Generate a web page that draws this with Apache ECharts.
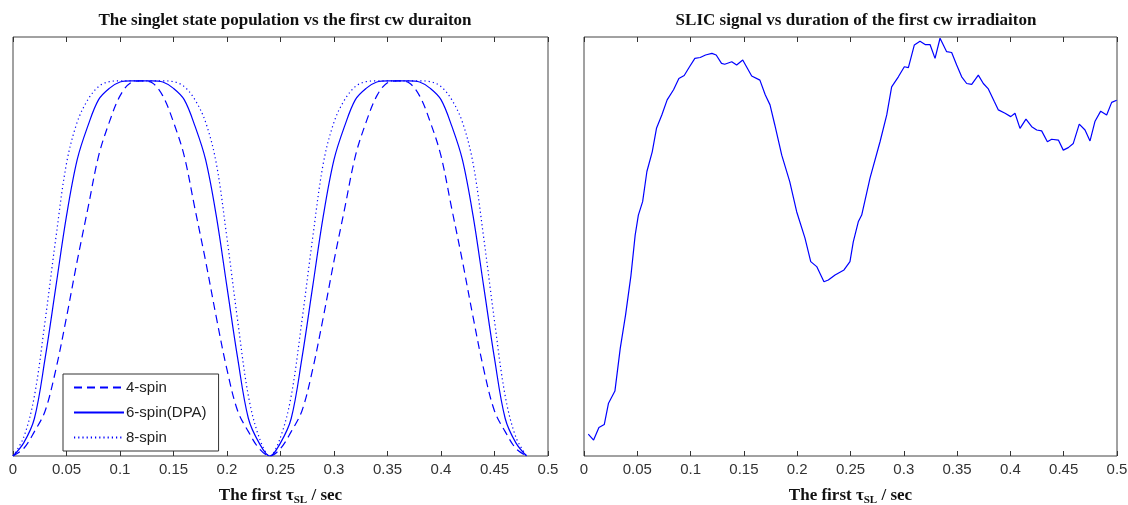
<!DOCTYPE html>
<html>
<head>
<meta charset="utf-8">
<script src="https://cdn.jsdelivr.net/npm/echarts@6/dist/echarts.min.js"></script>
<style>
  html, body { margin: 0; padding: 0; background: #fff; }
  #chart { width: 1128px; height: 505px; }
</style>
</head>
<body>
<div id="chart"></div>
<script>
// left panel: population vs first cw duration (sampled every 0.01 s)
const popTime = [0, 0.01, 0.02, 0.03, 0.04, 0.05, 0.06, 0.07, 0.08, 0.09, 0.1, 0.11, 0.12,
  0.13, 0.14, 0.15, 0.16, 0.17, 0.18, 0.19, 0.2, 0.21, 0.22, 0.23, 0.24,
  0.25, 0.26, 0.27, 0.28, 0.29, 0.3, 0.31, 0.32, 0.33, 0.34, 0.35, 0.36,
  0.37, 0.38, 0.39, 0.4, 0.41, 0.42, 0.43, 0.44, 0.45, 0.46, 0.47, 0.48]
const spin4 = [0, 0.02, 0.065, 0.12, 0.23, 0.37, 0.52, 0.66, 0.8, 0.89, 0.96, 0.995, 1,
  0.995, 0.96, 0.89, 0.8, 0.66, 0.52, 0.37, 0.23, 0.12, 0.065, 0.02, 0,
  0.02, 0.065, 0.12, 0.23, 0.37, 0.52, 0.66, 0.8, 0.89, 0.96, 0.995, 1,
  0.995, 0.96, 0.89, 0.8, 0.66, 0.52, 0.37, 0.23, 0.12, 0.065, 0.02, 0]
const spin6 = [0, 0.035, 0.1, 0.26, 0.45, 0.64, 0.79, 0.88, 0.95, 0.98, 0.997, 1, 1,
  1, 0.997, 0.98, 0.95, 0.88, 0.79, 0.64, 0.45, 0.26, 0.1, 0.035, 0,
  0.035, 0.1, 0.26, 0.45, 0.64, 0.79, 0.88, 0.95, 0.98, 0.997, 1, 1,
  1, 0.997, 0.98, 0.95, 0.88, 0.79, 0.64, 0.45, 0.26, 0.1, 0.035, 0]
const spin8 = [0, 0.05, 0.16, 0.36, 0.58, 0.78, 0.89, 0.95, 0.985, 0.998, 1, 1, 1,
  1, 1, 0.998, 0.985, 0.95, 0.89, 0.78, 0.58, 0.36, 0.16, 0.05, 0,
  0.05, 0.16, 0.36, 0.58, 0.78, 0.89, 0.95, 0.985, 0.998, 1, 1, 1,
  1, 1, 0.998, 0.985, 0.95, 0.89, 0.78, 0.58, 0.36, 0.16, 0.05, 0]

// right panel: SLIC signal (relative units)
const slicTime = [0.004, 0.009, 0.014, 0.019, 0.023, 0.029, 0.034, 0.039, 0.044, 0.048,
  0.051, 0.055, 0.059, 0.064, 0.068, 0.073, 0.078, 0.084, 0.089, 0.094,
  0.099, 0.104, 0.109, 0.114, 0.12, 0.124, 0.129, 0.132, 0.1386, 0.1432,
  0.1489, 0.1573, 0.165, 0.17, 0.1745, 0.179, 0.1855, 0.193, 0.1995, 0.2073,
  0.2127, 0.2183, 0.2251, 0.2292, 0.2355, 0.2439, 0.2495, 0.2526, 0.2573, 0.2605,
  0.2683, 0.2777, 0.284, 0.2886, 0.2949, 0.3005, 0.3043, 0.3099, 0.3152, 0.32,
  0.3246, 0.3293, 0.334, 0.3402, 0.3449, 0.3496, 0.3543, 0.359, 0.3637, 0.3699,
  0.3746, 0.3793, 0.3849, 0.3887, 0.395, 0.4003, 0.4043, 0.409, 0.4146, 0.42,
  0.4247, 0.4293, 0.4347, 0.4387, 0.445, 0.4496, 0.4543, 0.459, 0.4646, 0.47,
  0.4747, 0.4794, 0.4847, 0.4903, 0.495, 0.4997]
const slicSignal = [0.052, 0.038, 0.068, 0.075, 0.126, 0.155, 0.257, 0.337, 0.43, 0.527,
  0.575, 0.607, 0.679, 0.726, 0.782, 0.814, 0.85, 0.874, 0.901, 0.908,
  0.929, 0.949, 0.951, 0.957, 0.961, 0.957, 0.937, 0.935, 0.941, 0.933,
  0.945, 0.907, 0.897, 0.862, 0.838, 0.79, 0.718, 0.655, 0.583, 0.52,
  0.464, 0.452, 0.416, 0.42, 0.432, 0.444, 0.464, 0.511, 0.559, 0.575,
  0.663, 0.75, 0.814, 0.881, 0.905, 0.929, 0.927, 0.981, 0.99, 0.982,
  0.982, 0.949, 0.997, 0.965, 0.963, 0.933, 0.905, 0.889, 0.887, 0.909,
  0.889, 0.876, 0.846, 0.826, 0.818, 0.81, 0.818, 0.782, 0.804, 0.786,
  0.778, 0.776, 0.75, 0.756, 0.754, 0.73, 0.736, 0.746, 0.792, 0.778,
  0.752, 0.799, 0.823, 0.814, 0.844, 0.849]

const xTicks = { min: 0, max: 0.5, interval: 0.05 }

const chart = echarts.init(document.getElementById('chart'), null, { renderer: 'canvas' })

const serif = '"Liberation Serif", "Times New Roman", serif'
const sans = '"Liberation Sans", Arial, sans-serif'
const blue = '#0000ff'

const axisName = 'The first {tau|τ}{sub|SL}{t| / sec}'
const nameRich = {
  tau: { fontFamily: serif, fontWeight: 'bold', fontSize: 17, color: '#111' },
  sub: { fontFamily: serif, fontWeight: 'bold', fontSize: 11, color: '#111', padding: [10, 0, 0, 0] },
  t: { fontFamily: serif, fontWeight: 'bold', fontSize: 17, color: '#111' }
}

function bottomAxis(grid) {
  return {
    type: 'value',
    gridIndex: grid,
    ...xTicks,
    position: 'bottom',
    name: axisName,
    nameLocation: 'middle',
    nameGap: 29,
    nameTextStyle: { fontFamily: serif, fontWeight: 'bold', fontSize: 17, color: '#111', rich: nameRich },
    axisLine: { show: false },
    axisTick: { show: true, inside: true, length: 5, lineStyle: { color: '#333' } },
    axisLabel: { margin: 6, fontFamily: sans, fontSize: 15, color: '#333' },
    splitLine: { show: false }
  }
}
function topAxis(grid) {
  return {
    type: 'value',
    gridIndex: grid,
    ...xTicks,
    position: 'top',
    axisLine: { show: false },
    axisTick: { show: true, inside: true, length: 5, lineStyle: { color: '#333' } },
    axisLabel: { show: false },
    splitLine: { show: false }
  }
}
function hiddenY(grid, max) {
  return {
    type: 'value',
    gridIndex: grid,
    min: 0,
    max: max,
    axisLine: { show: false },
    axisTick: { show: false },
    axisLabel: { show: false },
    splitLine: { show: false }
  }
}

function pairs(xs, ys) {
  return xs.map((x, i) => [x, ys[i]])
}

chart.setOption({
  animation: false,
  backgroundColor: '#fff',
  title: [
    {
      text: 'The singlet state population vs the first cw duraiton',
      left: 280,
      top: 7,
      textAlign: 'center',
      textStyle: { fontFamily: serif, fontWeight: 'bold', fontSize: 17, color: '#111' }
    },
    {
      text: 'SLIC signal vs duration of the first cw irradiaiton',
      left: 851,
      top: 7,
      textAlign: 'center',
      textStyle: { fontFamily: serif, fontWeight: 'bold', fontSize: 17, color: '#111' }
    }
  ],
  legend: {
    data: ['4-spin', '6-spin(DPA)', '8-spin'],
    orient: 'vertical',
    left: 63,
    top: 374,
    padding: [6, 12, 6, 10],
    itemGap: 10,
    itemWidth: 50,
    itemHeight: 14,
    backgroundColor: '#fff',
    borderColor: '#333',
    borderWidth: 1,
    borderRadius: 0,
    itemStyle: { color: 'transparent', borderWidth: 0, opacity: 0 },
    textStyle: { fontFamily: sans, fontSize: 15, color: '#222', padding: [0, 0, 0, -3] }
  },
  grid: [
    { left: 13, right: 580, top: 37, bottom: 49, outerBoundsMode: 'none', show: true, borderColor: '#444', borderWidth: 1 },
    { left: 584, right: 11, top: 37, bottom: 49, outerBoundsMode: 'none', show: true, borderColor: '#444', borderWidth: 1 }
  ],
  xAxis: [bottomAxis(0), topAxis(0), bottomAxis(1), topAxis(1)],
  yAxis: [hiddenY(0, 1.117), hiddenY(1, 1)],
  series: [
    {
      name: '4-spin',
      type: 'line',
      xAxisIndex: 0,
      yAxisIndex: 0,
      data: pairs(popTime, spin4),
      smooth: 0.35,
      symbol: 'none',
      lineStyle: { color: blue, width: 1.2, type: [8, 5] },
      itemStyle: { color: blue }
    },
    {
      name: '6-spin(DPA)',
      type: 'line',
      xAxisIndex: 0,
      yAxisIndex: 0,
      data: pairs(popTime, spin6),
      smooth: 0.35,
      symbol: 'none',
      lineStyle: { color: blue, width: 1.2 },
      itemStyle: { color: blue }
    },
    {
      name: '8-spin',
      type: 'line',
      xAxisIndex: 0,
      yAxisIndex: 0,
      data: pairs(popTime, spin8),
      smooth: 0.35,
      symbol: 'none',
      lineStyle: { color: blue, width: 1.2, type: [1.2, 3] },
      itemStyle: { color: blue }
    },
    {
      name: 'SLIC',
      type: 'line',
      xAxisIndex: 2,
      yAxisIndex: 1,
      data: pairs(slicTime, slicSignal),
      symbol: 'none',
      lineStyle: { color: blue, width: 1.2 },
      itemStyle: { color: blue }
    }
  ]
})
</script>
</body>
</html>
